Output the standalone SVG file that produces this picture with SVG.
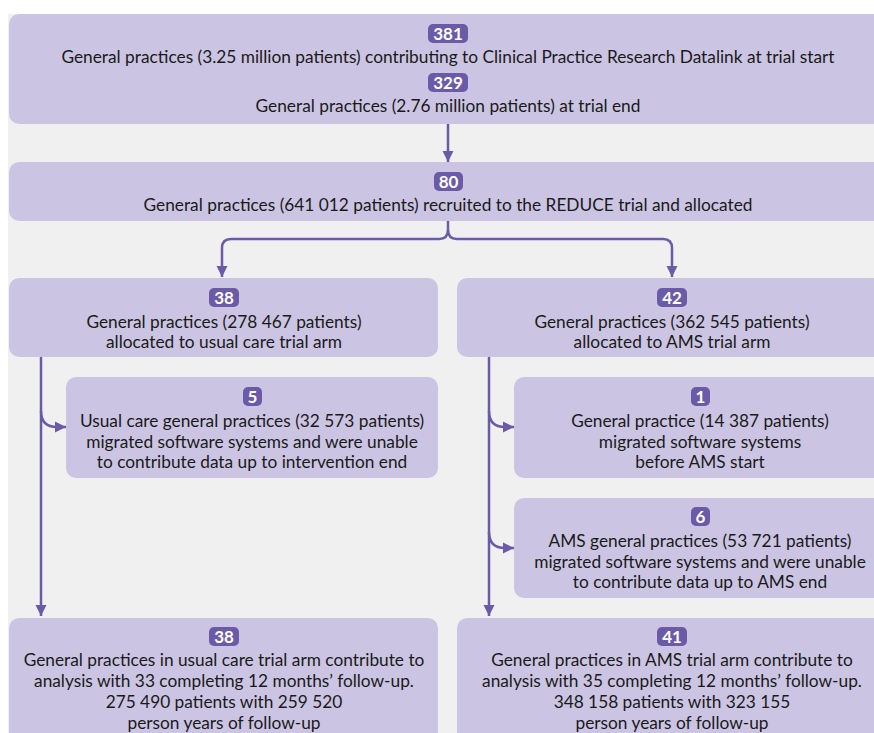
<svg xmlns="http://www.w3.org/2000/svg" width="874" height="733" viewBox="0 0 874 733">
<defs>
<style>
.box{fill:#cbc5e3;}
.badge{fill:#6b5aa8;}
.bt{font-family:Lato,"Liberation Sans",sans-serif;font-size:17px;font-weight:bold;fill:#ffffff;text-anchor:middle;}
.t{font-family:Lato,"Liberation Sans",sans-serif;font-size:17.3px;fill:#1a1a1a;text-anchor:middle;}
.c{fill:none;stroke:#6b5aa8;stroke-width:2.5;}
</style>
<marker id="ah" viewBox="0 0 10 10" refX="10" refY="5" markerWidth="11" markerHeight="12" markerUnits="userSpaceOnUse" orient="auto">
<path d="M0,0 L10,5 L0,10 z" fill="#6b5aa8"/>
</marker>
</defs>
<rect x="0" y="0" width="874" height="733" fill="#ffffff"/>
<rect x="8" y="14" width="866" height="719" fill="#f0f0f0"/>

<g id="connectors">
<path class="c" d="M448,124 V162" marker-end="url(#ah)"/>
<path class="c" d="M448,220 V230 Q448,239 439,239 H231 Q222,239 222,248 V277" marker-end="url(#ah)"/>
<path class="c" d="M448,230 Q448,239 457,239 H663 Q672,239 672,248 V277" marker-end="url(#ah)"/>
<path class="c" d="M41,357 V616" marker-end="url(#ah)"/>
<path class="c" d="M41,411 Q41,427 57,427 H66" marker-end="url(#ah)"/>
<path class="c" d="M489,357 V616" marker-end="url(#ah)"/>
<path class="c" d="M489,411 Q489,427 505,427 H514" marker-end="url(#ah)"/>
<path class="c" d="M489,532 Q489,548 505,548 H514" marker-end="url(#ah)"/>
</g>

<g id="n-cprd">
<rect class="box" x="9" y="14" width="900" height="110" rx="10"/>
<rect class="badge" x="428" y="24" width="40" height="19" rx="5"/>
<text class="bt" x="448" y="39.5">381</text>
<text class="t" x="448" y="63">General practices (3.25 million patients) contributing to Clinical Practice Research Datalink at trial start</text>
<rect class="badge" x="428" y="73" width="40" height="19" rx="5"/>
<text class="bt" x="448" y="88.5">329</text>
<text class="t" x="448" y="112">General practices (2.76 million patients) at trial end</text>
</g>

<g id="n-recruited">
<rect class="box" x="9" y="162" width="900" height="59" rx="10"/>
<rect class="badge" x="434" y="172" width="29" height="19" rx="5"/>
<text class="bt" x="448.5" y="187.5">80</text>
<text class="t" x="448" y="211">General practices (641 012 patients) recruited to the REDUCE trial and allocated</text>
</g>

<g id="n-usual">
<rect class="box" x="9" y="278" width="429" height="79" rx="10"/>
<rect class="badge" x="209" y="288" width="30" height="19" rx="5"/>
<text class="bt" x="224" y="303.5">38</text>
<text class="t" x="224" y="328">General practices (278 467 patients)</text>
<text class="t" x="224" y="348">allocated to usual care trial arm</text>
</g>

<g id="n-ams">
<rect class="box" x="457" y="278" width="450" height="79" rx="10"/>
<rect class="badge" x="657" y="288" width="30" height="19" rx="5"/>
<text class="bt" x="672" y="303.5">42</text>
<text class="t" x="672" y="328">General practices (362 545 patients)</text>
<text class="t" x="672" y="348">allocated to AMS trial arm</text>
</g>

<g id="n-usual-migrated">
<rect class="box" x="66" y="377" width="372" height="101" rx="10"/>
<rect class="badge" x="243" y="387" width="19" height="19" rx="5"/>
<text class="bt" x="252.5" y="402.5">5</text>
<text class="t" x="252" y="427">Usual care general practices (32 573 patients)</text>
<text class="t" x="252" y="448">migrated software systems and were unable</text>
<text class="t" x="252" y="468">to contribute data up to intervention end</text>
</g>

<g id="n-ams-before">
<rect class="box" x="514" y="377" width="400" height="101" rx="10"/>
<rect class="badge" x="691" y="387" width="19" height="19" rx="5"/>
<text class="bt" x="700.5" y="402.5">1</text>
<text class="t" x="700" y="427">General practice (14 387 patients)</text>
<text class="t" x="700" y="448">migrated software systems</text>
<text class="t" x="700" y="468">before AMS start</text>
</g>

<g id="n-ams-migrated">
<rect class="box" x="514" y="498" width="400" height="100" rx="10"/>
<rect class="badge" x="691" y="507" width="19" height="19" rx="5"/>
<text class="bt" x="700.5" y="522.5">6</text>
<text class="t" x="700" y="547">AMS general practices (53 721 patients)</text>
<text class="t" x="700" y="568">migrated software systems and were unable</text>
<text class="t" x="700" y="588">to contribute data up to AMS end</text>
</g>

<g id="n-usual-analysis">
<rect class="box" x="9" y="618" width="429" height="130" rx="10"/>
<rect class="badge" x="209" y="627" width="30" height="19" rx="5"/>
<text class="bt" x="224" y="642.5">38</text>
<text class="t" x="224" y="666">General practices in usual care trial arm contribute to</text>
<text class="t" x="224" y="687">analysis with 33 completing 12 months’ follow-up.</text>
<text class="t" x="224" y="708">275 490 patients with 259 520</text>
<text class="t" x="224" y="729">person years of follow-up</text>
</g>

<g id="n-ams-analysis">
<rect class="box" x="457" y="618" width="450" height="130" rx="10"/>
<rect class="badge" x="657" y="627" width="30" height="19" rx="5"/>
<text class="bt" x="672" y="642.5">41</text>
<text class="t" x="672" y="666">General practices in AMS trial arm contribute to</text>
<text class="t" x="672" y="687">analysis with 35 completing 12 months’ follow-up.</text>
<text class="t" x="672" y="708">348 158 patients with 323 155</text>
<text class="t" x="672" y="729">person years of follow-up</text>
</g>
</svg>
